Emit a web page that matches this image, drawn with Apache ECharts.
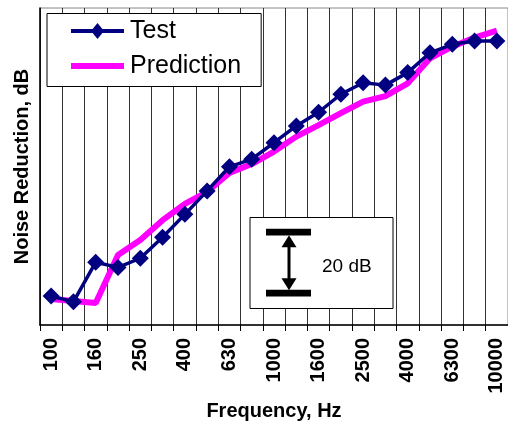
<!DOCTYPE html>
<html>
<head>
<meta charset="utf-8">
<script src="https://cdn.jsdelivr.net/npm/echarts@6/dist/echarts.min.js"></script>
<style>
html,body{margin:0;padding:0;background:#fff;}
#chart{width:508px;height:421px;}
</style>
</head>
<body>
<div id="chart"></div>
<script>
const categories = ['100','125','160','200','250','315','400','500','630','800','1000','1250','1600','2000','2500','3150','4000','5000','6300','8000','10000'];
const testValues = [9.5, 7.6, 20.6, 18.9, 21.9, 28.8, 36.3, 44.0, 51.9, 54.4, 59.8, 65.3, 69.8, 75.7, 79.5, 78.7, 82.8, 89.3, 92.1, 93.2, 93.2];
const predictionValues = [8.5, 7.9, 7.2, 23.0, 27.9, 34.4, 39.7, 43.7, 49.9, 52.8, 56.9, 61.8, 65.6, 69.5, 73.3, 75.1, 79.3, 87.5, 91.3, 94.3, 96.6];
const scaleBarDb = 20;

const chart = echarts.init(document.getElementById('chart'));
const font = 'Arial, "Liberation Sans", sans-serif';
const testIcon = 'path://M0,6 L53,6 L53,10 L0,10 Z M20,8 L26.5,0 L33,8 L26.5,16 Z';
const predIcon = 'path://M0,0 L0.01,0 Z M0,5 L53,5 L53,11 L0,11 Z M0,16 L0.01,16 Z';
chart.setOption({
  animation: false,
  backgroundColor: '#fff',
  grid: {left: 40, right: 0, top: 8, bottom: 96, show: true, borderColor: '#888', borderWidth: 1, containLabel: false, outerBoundsMode: 'none'},
  legend: {
    left: 47, top: 13.5, orient: 'vertical',
    data: [{name: 'Test', icon: testIcon}, {name: 'Prediction', icon: predIcon}],
    itemWidth: 53, itemHeight: 16, itemGap: 10,
    itemStyle: {borderWidth: 0},
    borderColor: '#000', borderWidth: 1,
    padding: [5, 20, 8, 24],
    backgroundColor: '#fff',
    textStyle: {fontFamily: font, fontSize: 25, lineHeight: 25, color: '#000', padding: [0, 0, 0, 1]}
  },
  xAxis: {
    type: 'category', data: categories, boundaryGap: true,
    name: 'Frequency, Hz', nameLocation: 'middle', nameGap: 69,
    nameTextStyle: {fontFamily: font, fontSize: 20, fontWeight: 'bold', color: '#000'},
    axisLine: {lineStyle: {color: '#000', width: 1.5}},
    axisTick: {show: true, length: 6, interval: 0, lineStyle: {color: '#000'}},
    axisLabel: {interval: 1, rotate: 90, fontFamily: font, fontSize: 20, fontWeight: 'bold', color: '#000', margin: 13},
    splitLine: {show: true, interval: 0, lineStyle: {color: '#333', width: 1}}
  },
  yAxis: {
    type: 'value', min: 0, max: 104,
    name: 'Noise Reduction, dB', nameLocation: 'middle', nameGap: 8,
    nameTextStyle: {fontFamily: font, fontSize: 20, fontWeight: 'bold', color: '#000'},
    axisLine: {show: true, lineStyle: {color: '#000', width: 1.5}},
    axisTick: {show: false},
    axisLabel: {show: false},
    splitLine: {show: false}
  },
  series: [
    {
      name: 'Prediction', type: 'line', data: predictionValues,
      symbol: 'none', lineStyle: {color: '#FF00FF', width: 6},
      itemStyle: {color: '#FF00FF'}, z: 2
    },
    {
      name: 'Test', type: 'line', data: testValues,
      symbol: 'diamond', symbolSize: 17, showAllSymbol: true,
      lineStyle: {color: '#000080', width: 3.5},
      itemStyle: {color: '#000080'}, z: 3
    }
  ]
});

// 20 dB scale bar, sized through the y axis scale
const y0 = chart.convertToPixel({yAxisIndex: 0}, 0);
const y20 = chart.convertToPixel({yAxisIndex: 0}, scaleBarDb);
const barLen = y0 - y20;
const cy = 262.7;
const topY = cy - barLen / 2, botY = cy + barLen / 2;
const ax = 289;
chart.setOption({
  graphic: [
    {type: 'rect', shape: {x: 250, y: 217.5, width: 143, height: 91}, style: {fill: '#fff', stroke: '#000', lineWidth: 1}, z: 10},
    {type: 'rect', shape: {x: 266, y: topY - 3.4, width: 45, height: 6.8}, style: {fill: '#000'}, z: 11},
    {type: 'rect', shape: {x: 266, y: botY - 3.4, width: 45, height: 6.8}, style: {fill: '#000'}, z: 11},
    {type: 'line', shape: {x1: ax, y1: topY + 10, x2: ax, y2: botY - 10}, style: {stroke: '#000', lineWidth: 3}, z: 11},
    {type: 'polygon', shape: {points: [[ax, topY + 3], [ax - 7.5, topY + 15], [ax + 7.5, topY + 15]]}, style: {fill: '#000'}, z: 11},
    {type: 'polygon', shape: {points: [[ax, botY - 3], [ax - 7.5, botY - 15], [ax + 7.5, botY - 15]]}, style: {fill: '#000'}, z: 11},
    {type: 'text', x: 322, y: 267, style: {text: '20 dB', font: '19px Arial, "Liberation Sans", sans-serif', fill: '#000', textVerticalAlign: 'middle'}, z: 11}
  ]
});
</script>
</body>
</html>
